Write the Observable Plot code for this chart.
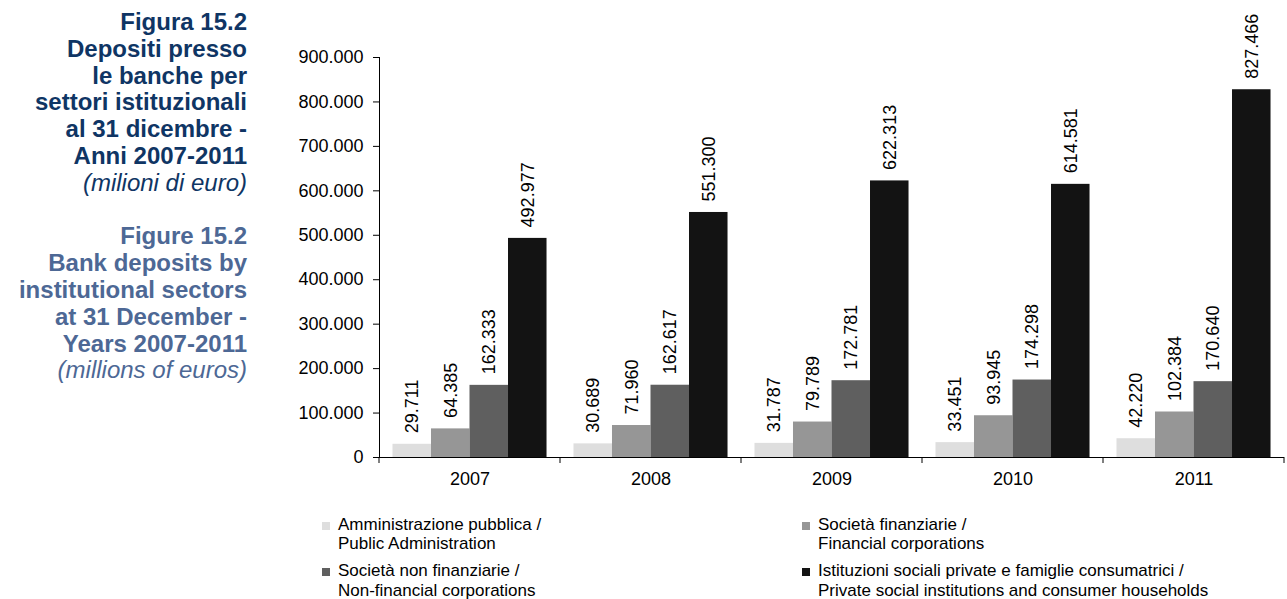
<!DOCTYPE html>
<html>
<head>
<meta charset="utf-8">
<script src="https://cdn.jsdelivr.net/npm/d3@7"></script>
<script src="https://cdn.jsdelivr.net/npm/@observablehq/plot@0.6"></script>
<style>
  html, body { margin: 0; padding: 0; background: #fff; }
  #root { position: relative; width: 1287px; height: 599px; overflow: hidden; font-family: "Liberation Sans", Arial, sans-serif; }
  #title { position: absolute; left: 0; top: 9px; width: 247px; text-align: right; font-size: 24px; line-height: 26.8px; font-weight: bold; }
  #title .it { color: #0f3564; }
  #title .en { color: #4d6895; }
  #title .sub { font-weight: normal; font-style: italic; }
  #chart { position: absolute; left: 0; top: 0; }
  .leg { position: absolute; font-size: 17px; line-height: 19.5px; color: #000; white-space: nowrap; }
  .leg .sw { position: absolute; width: 8px; height: 8px; left: -16px; top: 7px; }
</style>
</head>
<body>
<div id="root">
  <div id="title"></div>
  <div id="chart"></div>
</div>
<script>
// ---- data ----
const years = ["2007", "2008", "2009", "2010", "2011"];
const seriesKeys = ["pa", "fin", "nonfin", "hh"];
const seriesLabelsIt = ["Amministrazione pubblica /", "Società finanziarie /", "Società non finanziarie /", "Istituzioni sociali private e famiglie consumatrici /"];
const seriesLabelsEn = ["Public Administration", "Financial corporations", "Non-financial corporations", "Private social institutions and consumer households"];
const seriesColors = ["#dedede", "#969696", "#5f5f5f", "#131313"];
const valuesPA = [29711, 30689, 31787, 33451, 42220];
const valuesFin = [64385, 71960, 79789, 93945, 102384];
const valuesNonFin = [162333, 162617, 172781, 174298, 170640];
const valuesHH = [492977, 551300, 622313, 614581, 827466];
const yTicks = [0, 100000, 200000, 300000, 400000, 500000, 600000, 700000, 800000, 900000];
const titleIt = ["Figura 15.2", "Depositi presso", "le banche per", "settori istituzionali", "al 31 dicembre -", "Anni 2007-2011"];
const subtitleIt = "(milioni di euro)";
const titleEn = ["Figure 15.2", "Bank deposits by", "institutional sectors", "at 31 December -", "Years 2007-2011"];
const subtitleEn = "(millions of euros)";

// ---- title ----
const t = document.getElementById("title");
t.innerHTML =
  titleIt.map(s => `<div class="it">${s}</div>`).join("") +
  `<div class="it sub">${subtitleIt}</div><div>&nbsp;</div>` +
  titleEn.map(s => `<div class="en">${s}</div>`).join("") +
  `<div class="en sub">${subtitleEn}</div>`;

// ---- table ----
const allValues = [valuesPA, valuesFin, valuesNonFin, valuesHH];
const data = [];
years.forEach((y, i) => seriesKeys.forEach((k, j) => data.push({year: y, series: k, value: allValues[j][i]})));

const loc = d3.formatLocale({decimal: ",", thousands: ".", grouping: [3], currency: ["", "€"]});
const fmt = loc.format(",d");

const chart = Plot.plot({
  width: 1287,
  height: 495,
  marginLeft: 379,
  marginRight: 3,
  marginTop: 57,
  marginBottom: 38,
  style: {fontFamily: "'Liberation Sans', Arial, sans-serif", fontSize: "18px", color: "#000", background: "transparent"},
  fx: {domain: years, padding: 0, label: null, tickSize: 0, tickPadding: 15, axis: "bottom"},
  x: {domain: seriesKeys, paddingInner: 0, paddingOuter: 0.35, round: false, axis: null},
  y: {domain: [0, 900000], ticks: yTicks, tickFormat: fmt, tickSize: 6, tickPadding: 10, line: true, label: null},
  color: {domain: seriesKeys, range: seriesColors},
  marks: [
    Plot.barY(data, {fx: "year", x: "series", y: "value", fill: "series"}),
    Plot.text(data, {fx: "year", x: "series", y: "value", text: d => fmt(d.value), rotate: -90, textAnchor: "start", lineAnchor: "middle", dy: -11, fill: "#000"}),
    Plot.ruleY([0], {stroke: "#000"})
  ]
});
document.getElementById("chart").appendChild(chart);

// boundary ticks on the category axis, placed through the library's scales
const fxS = chart.scale("fx");
const yS = chart.scale("y");
const y0 = yS.apply(0);
const bounds = years.map(y => fxS.apply(y)).concat([fxS.apply(years[years.length - 1]) + fxS.bandwidth]);
d3.select(chart).append("g")
  .selectAll("line").data(bounds).join("line")
  .attr("x1", d => d).attr("x2", d => d)
  .attr("y1", y0).attr("y2", y0 + 6)
  .attr("stroke", "#000");

// ---- legend ----
const root = document.getElementById("root");
const legCols = [338, 818];
const legRows = [514.5, 561];
seriesKeys.forEach((k, i) => {
  const d = document.createElement("div");
  d.className = "leg";
  d.style.left = legCols[i % 2] + "px";
  d.style.top = legRows[Math.floor(i / 2)] + "px";
  d.innerHTML = `<span class="sw" style="background:${seriesColors[i]}"></span>${seriesLabelsIt[i]}<br>${seriesLabelsEn[i]}`;
  root.appendChild(d);
});
</script>
</body>
</html>
